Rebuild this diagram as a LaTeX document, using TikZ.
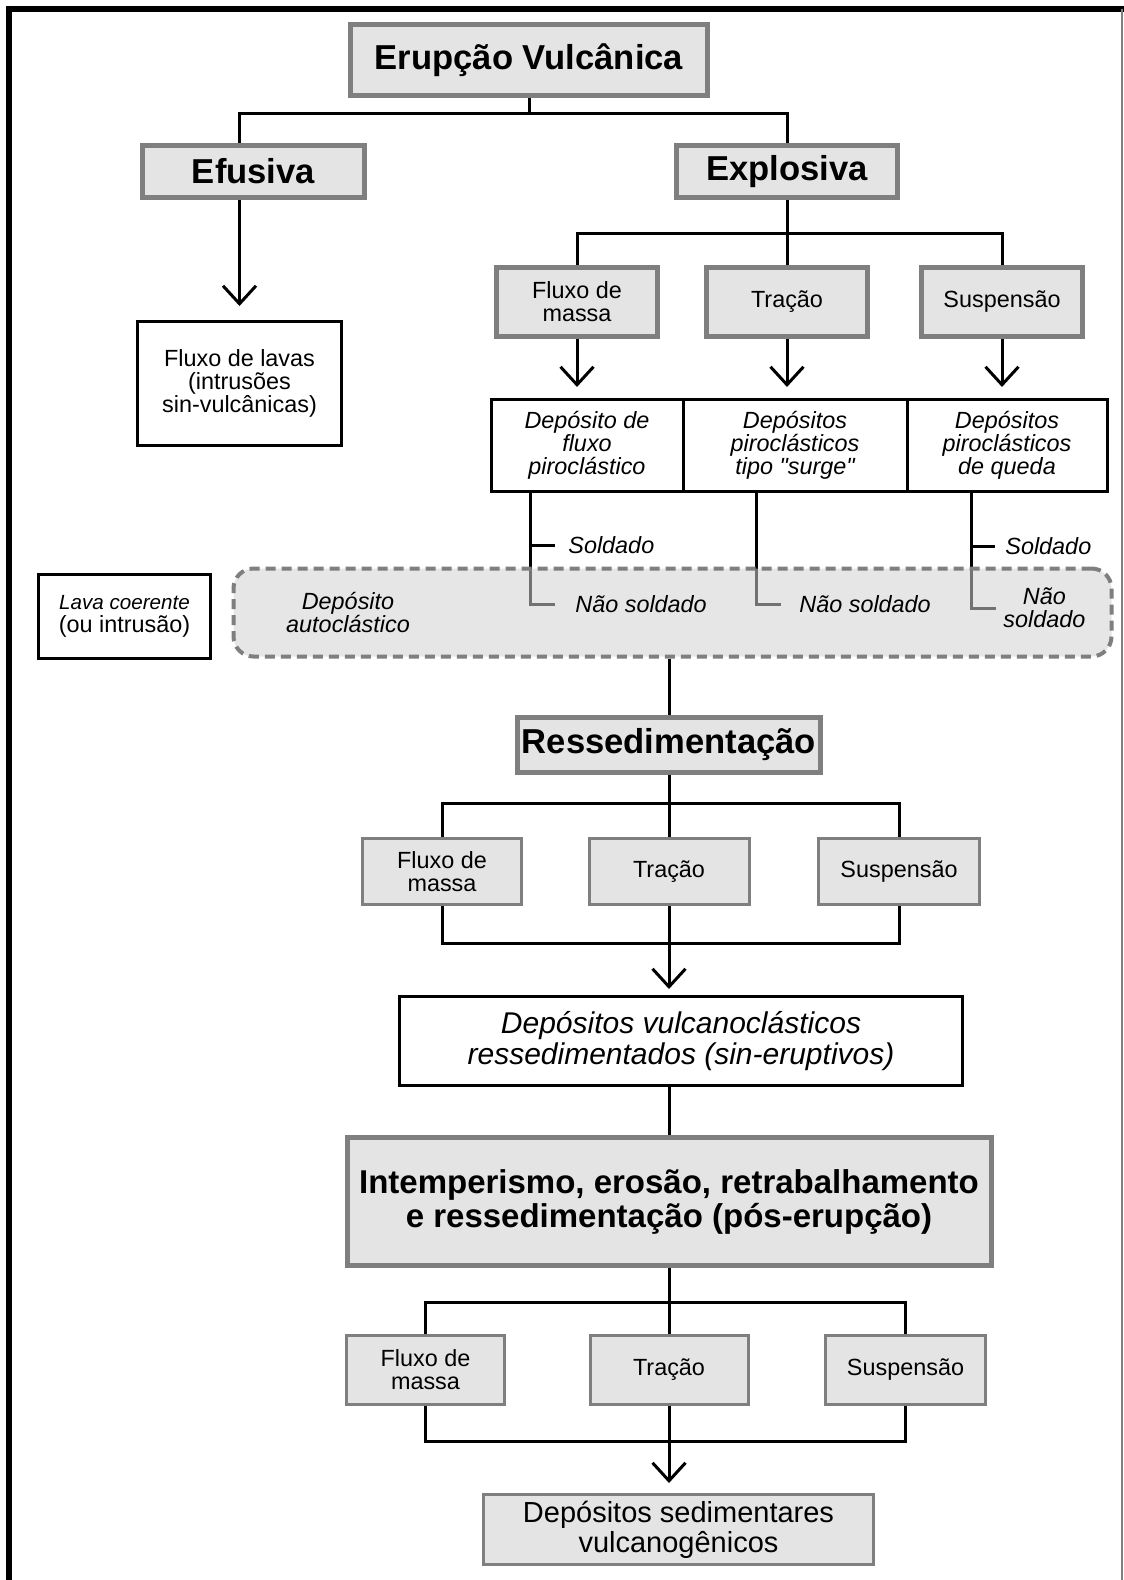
\documentclass[tikz,border=0pt]{standalone}
\usepackage{fontspec}
\setmainfont{Liberation Sans}
\usetikzlibrary{arrows.meta,positioning,backgrounds}

\definecolor{cinza}{HTML}{E4E4E4}
\definecolor{borda}{HTML}{7F7F7F}

\tikzstyle{titulo} = [rectangle, draw=borda, line width=2.5pt, fill=cinza,
                      font=\bfseries\fontsize{17.3}{20}\selectfont, inner sep=0pt]
\tikzstyle{processo} = [rectangle, draw=borda, line width=2.5pt, fill=cinza, align=center,
                        font=\fontsize{11.7}{11.5}\selectfont, inner sep=0pt]
\tikzstyle{processo2} = [processo, line width=1.5pt]
\tikzstyle{caixa} = [rectangle, draw, line width=1.5pt, fill=white, align=center,
                     font=\fontsize{11.7}{11.5}\selectfont, inner sep=0pt]
\tikzstyle{deposito} = [caixa, font=\itshape\fontsize{11.7}{11.5}\selectfont]
\tikzstyle{tracejado} = [rectangle, rounded corners=10pt, draw=borda, line width=2pt,
                         dash pattern=on 5pt off 3pt, fill=black!18, fill opacity=0.55]
\tikzstyle{rotulo} = [font=\itshape\fontsize{11.7}{11.5}\selectfont, align=center, inner sep=0pt]
\tikzstyle{linha} = [line width=1.5pt]
\tikzstyle{seta} = [linha, -{Straight Barb[length=9pt, width=16.5pt]}, shorten >=5pt]

\begin{document}
\begin{tikzpicture}[x=0.5pt, y=-0.5pt]
  \useasboundingbox (0,0) rectangle (1124,1580);
  \draw [line width=3pt] (9,1580) -- (9,8.5) -- (1124,8.5);
  \draw [borda, line width=1pt] (1122,8.5) -- (1122,1580);

  %% Erupcao e tipos
  \node (erupcao) [titulo, minimum width=178.5pt, minimum height=35.5pt] at (529,60) {Erupção Vulcânica};
  \node (efusiva) [titulo, minimum width=111pt, minimum height=26pt] at (253.5,171.5) {Efusiva};
  \node (explosiva) [titulo, minimum width=110.5pt, minimum height=26pt] at (787,171.5) {Explosiva};
  \node (lavas) [caixa, minimum width=102pt, minimum height=62pt] at (239.5,383.5)
        {Fluxo de lavas\\ (intrusões\\ sin-vulcânicas)};

  \node (massaA) [processo, minimum width=80.5pt, minimum height=34.5pt] at (577,302) {Fluxo de\\ massa};
  \node (tracaoA) [processo, minimum width=80.5pt, minimum height=34.5pt] at (787,302) {Tração};
  \node (suspA) [processo, minimum width=80.5pt, minimum height=34.5pt] at (1002,302) {Suspensão};

  \node (depA) [deposito, minimum width=96pt, minimum height=46pt] at (587,445.5)
        {Depósito de\\ fluxo\\ piroclástico};
  \node (depB) [deposito, minimum width=112pt, minimum height=46pt] at (795,445.5)
        {Depósitos\\ piroclásticos\\ tipo {\addfontfeatures{Ligatures=TeXOff}"surge"}};
  \node (depC) [deposito, minimum width=100pt, minimum height=46pt] at (1007,445.5)
        {Depósitos\\ piroclásticos\\ de queda};

  \node (coerente) [caixa, minimum width=86pt, minimum height=42pt] at (124.5,616.5)
        {{\itshape\fontsize{10.3}{11.5}\selectfont Lava coerente}\\ (ou intrusão)};
  \node (autoclastico) [tracejado, minimum width=439pt, minimum height=44pt] at (672.5,612.5) {};
  \node (autoTxt) [rotulo] at (348,612) {Depósito\\ autoclástico};

  \node (soldA) [rotulo, anchor=west] at (568,545) {Soldado};
  \node (naoA) [rotulo, anchor=west] at (575,604) {Não soldado};
  \node (naoB) [rotulo, anchor=west] at (799,604) {Não soldado};
  \node (soldC) [rotulo, anchor=west] at (1005,546) {Soldado};
  \node (naoC) [rotulo, anchor=west] at (1003,608) {Não\\ soldado};

  %% Ressedimentacao
  \node (ressed) [titulo, minimum width=151.5pt, minimum height=27.5pt] at (669,745) {Ressedimentação};
  \node (massaB) [processo2, minimum width=79.5pt, minimum height=33pt] at (442,871.5) {Fluxo de\\ massa};
  \node (tracaoB) [processo2, minimum width=80pt, minimum height=33pt] at (669,871.5) {Tração};
  \node (suspB) [processo2, minimum width=80.5pt, minimum height=33pt] at (899,871.5) {Suspensão};
  \node (depVulc) [caixa, font=\itshape\fontsize{15}{15.5}\selectfont, minimum width=281.5pt,
        minimum height=44.5pt] at (681,1041) {Depósitos vulcanoclásticos\\ ressedimentados (sin-eruptivos)};

  %% Pos-erupcao
  \node (intemp) [titulo, align=center, font=\bfseries\fontsize{16.5}{17}\selectfont,
        minimum width=322pt, minimum height=64pt] at (669,1201.5)
        {Intemperismo, erosão, retrabalhamento\\ e ressedimentação (pós-erupção)};
  \node (massaC) [processo2, minimum width=79pt, minimum height=34.5pt] at (425.5,1370) {Fluxo de\\ massa};
  \node (tracaoC) [processo2, minimum width=79pt, minimum height=34.5pt] at (669,1370) {Tração};
  \node (suspC) [processo2, minimum width=80pt, minimum height=34.5pt] at (905.5,1370) {Suspensão};
  \node (sedim) [processo2, font=\fontsize{14.5}{15}\selectfont, minimum width=195pt,
        minimum height=35pt] at (678.5,1529.5) {Depósitos sedimentares\\ vulcanogênicos};

  %% Barras
  \coordinate (barraA) at (0,113);
  \coordinate (barraE) at (0,233);
  \coordinate (barraB) at (0,803);
  \coordinate (barraB2) at (0,943);
  \coordinate (barraC) at (0,1302);
  \coordinate (barraC2) at (0,1441);

  \draw [linha] (erupcao.south) -- (erupcao |- barraA);
  \draw [linha] (lavas |- efusiva.north) |- (explosiva.north |- barraA) -- (explosiva.north);
  \draw [seta, shorten >=7pt] (lavas |- efusiva.south) -- (lavas.north);

  \draw [linha] (explosiva.south) -- (tracaoA.north);
  \draw [linha] (massaA.north) |- (suspA.north |- barraE) -- (suspA.north);
  \foreach \a/\b in {massaA/depA, tracaoA/depB, suspA/depC}
    \draw [seta, shorten >=5.5pt] (\a.south) -- (\a |- \b.north);

  %% Soldado / nao soldado, sob o deposito autoclastico
  \begin{pgfonlayer}{background}
    \draw [linha, shorten >=10pt] ([xshift=-28.5pt]depA.south) |- (naoA.west);
    \draw [linha, shorten <=6.5pt] (soldA.west) -- ++(-38,0);
    \draw [linha, shorten >=9pt] ([xshift=-19.5pt]depB.south) |- (naoB.west);
    \draw [linha, shorten >=3.5pt] ([xshift=-18pt]depC.south) |- (naoC.west);
    \draw [linha, shorten <=5pt] (soldC.west) -- ++(-34,0);
  \end{pgfonlayer}

  \draw [linha] (autoclastico.south -| ressed) -- (ressed.north);
  \draw [linha] (ressed.south) -- (tracaoB.north);
  \draw [linha] (massaB.north) |- (suspB.north |- barraB) -- (suspB.north);
  \draw [linha] (massaB.south) |- (suspB.south |- barraB2) -- (suspB.south);
  \draw [seta, shorten >=3pt] (tracaoB.south) -- (tracaoB |- depVulc.north);

  \draw [linha] (depVulc.south -| intemp) -- (intemp.north);
  \draw [linha] (intemp.south) -- (tracaoC.north);
  \draw [linha] (massaC.north) |- (suspC.north |- barraC) -- (suspC.north);
  \draw [linha] (massaC.south) |- (suspC.south |- barraC2) -- (suspC.south);
  \draw [seta, shorten >=5pt] (tracaoC.south) -- (tracaoC |- sedim.north);
\end{tikzpicture}
\end{document}
